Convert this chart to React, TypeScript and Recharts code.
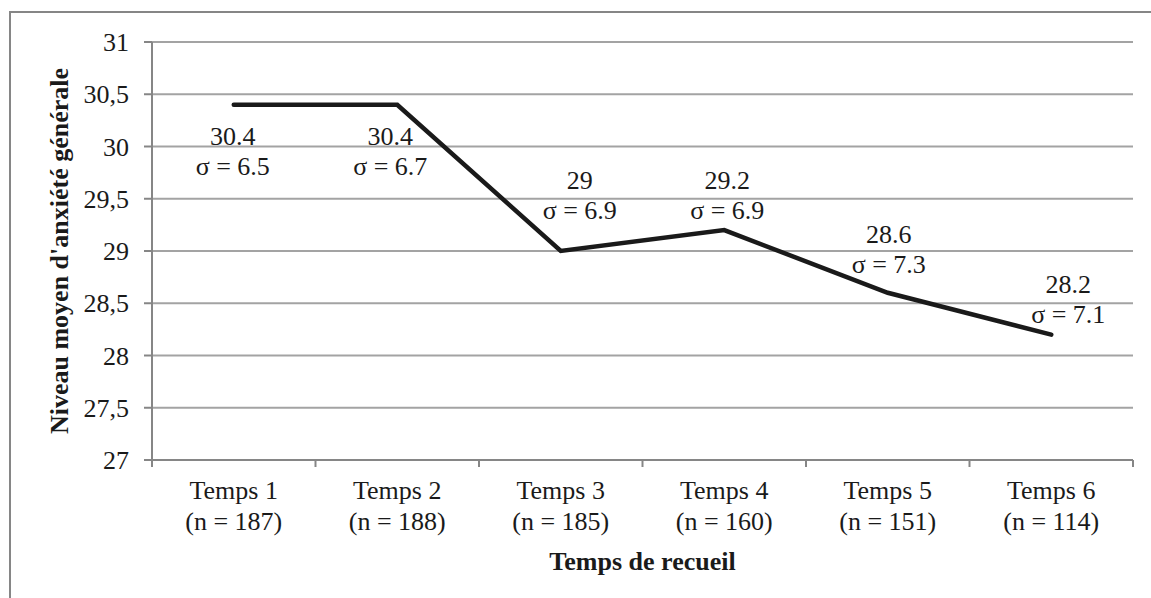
import { LineChart, Line, XAxis, YAxis, CartesianGrid, LabelList } from "recharts";

const CATEGORIES = ["Temps 1", "Temps 2", "Temps 3", "Temps 4", "Temps 5", "Temps 6"];
const SAMPLE_SIZES = [187, 188, 185, 160, 151, 114];
const MEANS = [30.4, 30.4, 29, 29.2, 28.6, 28.2];
const SIGMAS = [6.5, 6.7, 6.9, 6.9, 7.3, 7.1];
const Y_TICKS = [27, 27.5, 28, 28.5, 29, 29.5, 30, 30.5, 31];

// labels were placed by hand in the original, so each one gets its own nudge [dx, dy]
const LABEL_NUDGE = [
  [-1, 31],
  [-7, 31],
  [19, -71],
  [3, -50],
  [1, -59],
  [17, -51],
];

const W = 1151;
const H = 598;
const PLOT_LEFT = 152;
const PLOT_RIGHT = 1133;
const PLOT_TOP = 42;
const PLOT_BOTTOM = 460;
const BAND = (PLOT_RIGHT - PLOT_LEFT) / CATEGORIES.length;

const FONT = "Liberation Serif";
const INK = "#1a1a1a";
const AXIS = "#868686";
const GRID = "#a3a3a3";

const txt = { fontFamily: FONT, fontSize: 26, fill: INK };

const data = CATEGORIES.map((c, i) => ({
  label: c,
  n: SAMPLE_SIZES[i],
  mean: MEANS[i],
  sigma: SIGMAS[i],
}));

function CategoryTick(props: any) {
  const { x, y, index, payload } = props;
  const last = index === CATEGORIES.length - 1;
  const d = data[index];
  return (
    <g>
      <line x1={x - BAND / 2} x2={x - BAND / 2} y1={y} y2={y + 7} stroke={AXIS} strokeWidth={2} />
      {last && (
        <line x1={x + BAND / 2} x2={x + BAND / 2} y1={y} y2={y + 7} stroke={AXIS} strokeWidth={2} />
      )}
      <text x={x} y={y + 39} textAnchor="middle" style={txt}>
        {payload.value}
      </text>
      <text x={x} y={y + 70} textAnchor="middle" style={txt}>
        {`(n = ${d ? d.n : ""})`}
      </text>
    </g>
  );
}

function YTick(props: any) {
  const { x, y, payload } = props;
  return (
    <text x={x} y={y + 9} textAnchor="end" style={txt}>
      {String(payload.value).replace(".", ",")}
    </text>
  );
}

function PointLabel(props: any) {
  const { x, y, index } = props;
  const [dx, dy] = LABEL_NUDGE[index];
  const cx = x + dx;
  const cy = y + dy;
  return (
    <g>
      <text x={cx} y={cy + 9} textAnchor="middle" style={txt}>
        {String(MEANS[index])}
      </text>
      <text x={cx} y={cy + 39} textAnchor="middle" style={txt}>
        {`σ = ${SIGMAS[index]}`}
      </text>
    </g>
  );
}

export default function App() {
  return (
    <div
      style={{
        position: "absolute",
        left: 0,
        top: 0,
        width: W,
        height: H,
        background: "#fff",
        fontFamily: FONT,
      }}
    >
      <div
        style={{
          position: "absolute",
          left: 9,
          top: 11,
          width: W - 9,
          height: H - 11,
          borderLeft: `2px solid ${AXIS}`,
          borderTop: `2px solid ${AXIS}`,
          boxSizing: "border-box",
        }}
      />
      <div style={{ position: "absolute", left: 0, top: 0 }}>
        <LineChart
          width={W}
          height={H}
          data={data}
          style={{ fontFamily: FONT }}
          margin={{ top: PLOT_TOP, right: W - PLOT_RIGHT, bottom: 0, left: 0 }}
        >
          <CartesianGrid vertical={false} stroke={GRID} strokeWidth={2} />
          <XAxis
            dataKey="label"
            height={H - PLOT_BOTTOM}
            padding={{ left: BAND / 2, right: BAND / 2 }}
            interval={0}
            axisLine={{ stroke: AXIS, strokeWidth: 2 }}
            tickLine={false}
            tickSize={0}
            tickMargin={0}
            tick={<CategoryTick />}
            label={(p: any) => {
              const vb = p.viewBox;
              return (
                <text
                  x={vb.x + vb.width / 2}
                  y={570}
                  textAnchor="middle"
                  style={{ ...txt, fontWeight: "bold" }}
                >
                  Temps de recueil
                </text>
              );
            }}
          />
          <YAxis
            type="number"
            width={PLOT_LEFT}
            domain={[27, 31]}
            ticks={Y_TICKS}
            interval={0}
            axisLine={{ stroke: AXIS, strokeWidth: 2 }}
            tickLine={{ stroke: AXIS, strokeWidth: 2 }}
            tickSize={8}
            tickMargin={15}
            tick={<YTick />}
            label={(p: any) => {
              const vb = p.viewBox;
              const cy = vb.y + vb.height / 2;
              return (
                <text
                  x={68}
                  y={cy}
                  transform={`rotate(-90, 68, ${cy})`}
                  textAnchor="middle"
                  style={{ ...txt, fontWeight: "bold" }}
                >
                  Niveau moyen d'anxiété générale
                </text>
              );
            }}
          />
          <Line
            type="linear"
            dataKey="mean"
            stroke={INK}
            strokeWidth={4.5}
            strokeLinecap="round"
            dot={false}
            activeDot={false}
            isAnimationActive={false}
          >
            <LabelList dataKey="mean" content={<PointLabel />} />
          </Line>
        </LineChart>
      </div>
    </div>
  );
}
